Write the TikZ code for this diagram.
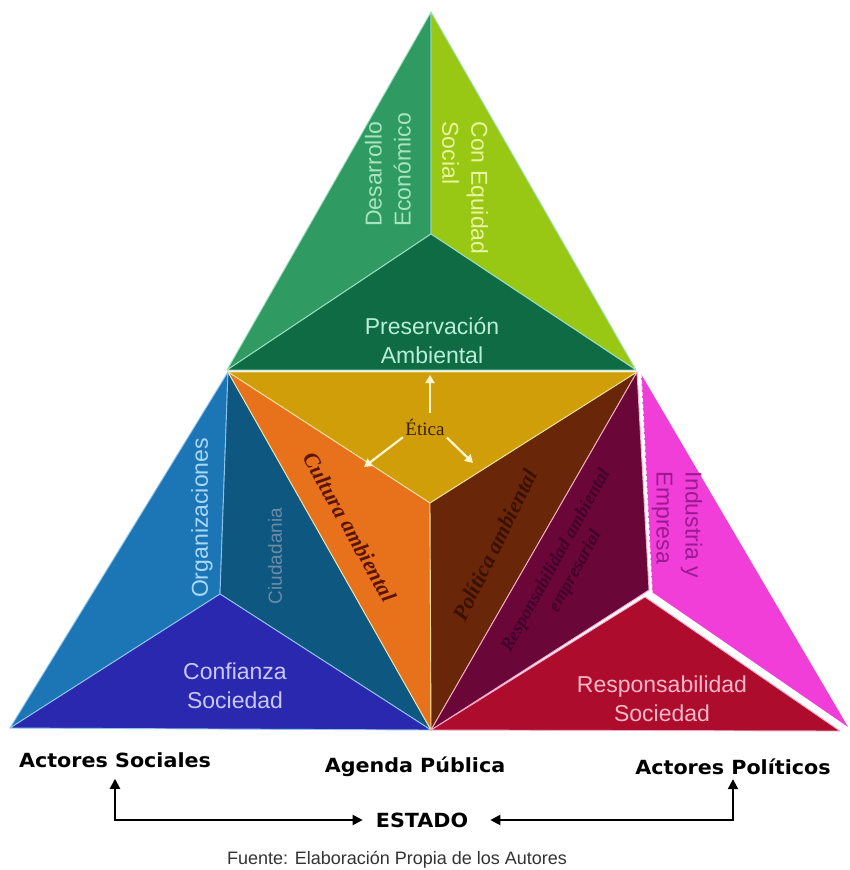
\documentclass[tikz,border=0pt]{standalone}
\usepackage{fontspec}
\setmainfont{Liberation Sans}
\newfontfamily\serifF{Liberation Serif}
\newfontfamily\labF[FakeStretch=1.06]{DejaVu Sans}
\usetikzlibrary{arrows.meta}
\definecolor{cDes}{HTML}{2F9B62}
\definecolor{cEqu}{HTML}{99C814}
\definecolor{cPre}{HTML}{0F6B44}
\definecolor{cEti}{HTML}{D09E08}
\definecolor{cCul}{HTML}{E8721C}
\definecolor{cBro}{HTML}{6A2608}
\definecolor{cOrg}{HTML}{1C76B6}
\definecolor{cCiu}{HTML}{0D5780}
\definecolor{cCon}{HTML}{2A28AE}
\definecolor{cPur}{HTML}{6A0638}
\definecolor{cPin}{HTML}{F23ED8}
\definecolor{cRed}{HTML}{AE0C2C}
\definecolor{tDes}{HTML}{A8E4C0}
\definecolor{tEqu}{HTML}{E8F4A0}
\definecolor{tPre}{HTML}{B8EED8}
\definecolor{tOrg}{HTML}{A8D8F8}
\definecolor{tCiu}{HTML}{6C8CA8}
\definecolor{tCon}{HTML}{C8C8FF}
\definecolor{tInd}{HTML}{9A1A90}
\definecolor{tRes}{HTML}{F8B8C8}
\definecolor{tCul}{HTML}{5A1408}
\definecolor{tBro}{HTML}{3A1000}
\definecolor{tPur}{HTML}{40002A}
\definecolor{tEti}{HTML}{3A2000}
\definecolor{eG}{HTML}{9EE0BE}
\definecolor{eB}{HTML}{8EC4EE}
\definecolor{eY}{HTML}{F2E2A2}
\definecolor{eP}{HTML}{F4A8C8}
\definecolor{wArr}{HTML}{FFF6D0}
\tikzset{
  face/.style={line width=0.9pt, line join=round},
  txt/.style={inner sep=0pt, font=\fontsize{23}{29}\selectfont},
  txtsmall/.style={inner sep=0pt, font=\fontsize{19}{23}\selectfont},
  eti/.style={inner sep=0pt, text=tEti, font=\serifF\fontsize{19}{22}\selectfont},
  scr/.style={inner sep=0pt, font=\serifF\itshape\bfseries\fontsize{22}{26}\selectfont},
  scrsmall/.style={inner sep=0pt, font=\serifF\itshape\bfseries\fontsize{18.5}{22}\selectfont},
  lab/.style={inner sep=0pt, font=\labF\bfseries\fontsize{19.5}{22}\selectfont},
  fue/.style={inner sep=0pt, text=black!80, font=\fontsize{18}{20}\selectfont},
  warr/.style={draw=wArr, line width=2.2pt, -{Triangle[length=8pt,width=9pt]}},
  barr/.style={draw=black, line width=2pt, {Triangle[length=10pt,width=10pt]}-{Triangle[length=10pt,width=10pt]}},
}
\begin{document}
\begin{tikzpicture}[x=1pt,y=-1pt]
\useasboundingbox (0,0) rectangle (849,870);
\fill[white] (0,0) rectangle (849,870);
% key points
\coordinate (TA) at (431,12);
\coordinate (TC) at (431,234);
\coordinate (TL) at (227,370);
\coordinate (TR) at (636,370);
\coordinate (ML) at (228,372);
\coordinate (MR) at (637,372);
\coordinate (MC) at (430,503);
\coordinate (MB) at (431,730);
\coordinate (LB) at (10,728);
\coordinate (LC) at (220,594);
\coordinate (RP) at (649,590);
\coordinate (RC) at (645,597);
\coordinate (RB) at (840,731);
\coordinate (PA) at (641,374);
\coordinate (PC) at (652,592);
\coordinate (PB) at (848,727);
% top triangle
\filldraw[face, fill=cDes, draw=eG] (TA) -- (TC) -- (TL) -- cycle;
\filldraw[face, fill=cEqu, draw=eG] (TA) -- (TR) -- (TC) -- cycle;
\filldraw[face, fill=cPre, draw=eG] (TL) -- (TC) -- (TR) -- cycle;
% left triangle
\filldraw[face, fill=cOrg, draw=eB] (ML) -- (LC) -- (LB) -- cycle;
\filldraw[face, fill=cCiu, draw=eB] (ML) -- (MB) -- (LC) -- cycle;
\filldraw[face, fill=cCon, draw=eB] (LB) -- (LC) -- (MB) -- cycle;
% middle triangle
\filldraw[face, fill=cEti, draw=eY] (ML) -- (MR) -- (MC) -- cycle;
\filldraw[face, fill=cCul, draw=eY] (ML) -- (MC) -- (MB) -- cycle;
\filldraw[face, fill=cBro, draw=eY] (MC) -- (MR) -- (MB) -- cycle;
% right triangle
\fill[cPin] (PA) -- (PB) -- (PC) -- cycle;
\filldraw[face, fill=cPur, draw=eP] (MB) -- (MR) -- (RP) -- cycle;
\filldraw[face, fill=cRed, draw=eP] (MB) -- (RC) -- (RB) -- cycle;
\draw[white, line width=1.2pt, dash pattern=on 4pt off 2pt] (PA) -- (PC);
% texts
\node[txt, text=tDes, rotate=90, align=left] (des) at (388,170) {Desarrollo\\Económico};
\node[txt, text=tEqu, rotate=-90, align=left] (equ) at (465,188) {Con Equidad\\Social};
\node[txt, text=tPre, align=center] (pre) at (432,341) {Preservación\\Ambiental};
\node[eti] (eticanode) at (425,427) {Ética};
\node[scr, text=tCul, rotate=-60.7] (cul) at (350,527) {Cultura ambiental};
\node[scr, text=tBro, rotate=63.7] (pol) at (495,545) {Política ambiental};
\node[scrsmall, text=tPur, rotate=61, align=center] (rae) at (566,566) {Responsabilidad ambiental\\empresarial};
\node[txt, text=tOrg, rotate=90] (org) at (202,518) {Organizaciones};
\node[txtsmall, text=tCiu, rotate=90] (ciu) at (275,556) {Ciudadania};
\node[txt, text=tCon, align=center] (con) at (235,686) {Confianza\\Sociedad};
\node[txt, text=tInd, rotate=-90, align=left] (ind) at (677,525) {Industria y\\Empresa};
\node[txt, text=tRes, align=center] (res) at (662,699) {Responsabilidad\\Sociedad};
% etica arrows
\coordinate (eu) at (430,375);
\coordinate (el) at (364,467);
\coordinate (er) at (473,463);
\draw[warr, shorten <=6pt] (eticanode.north -| eu) -- (eu);
\draw[warr, shorten <=3pt] (eticanode.south west) -- (el);
\draw[warr, shorten <=3pt] (eticanode.south east) -- (er);
% bottom labels
\node[lab] (as) at (115,760) {Actores Sociales};
\node[lab] (ag) at (415,767) {Agenda Pública};
\node[lab] (ap) at (733,767) {Actores Políticos};
\node[lab] (est) at (422,820) {ESTADO};
\node[fue] (fue) at (397,860) {Fuente: Elaboración Propia de los Autores};
\draw[barr, shorten <=13pt, shorten >=11pt] (est.west) -| (as.south);
\draw[barr, shorten <=22pt, shorten >=4pt] (est.east) -| (ap.south);
\end{tikzpicture}
\end{document}
